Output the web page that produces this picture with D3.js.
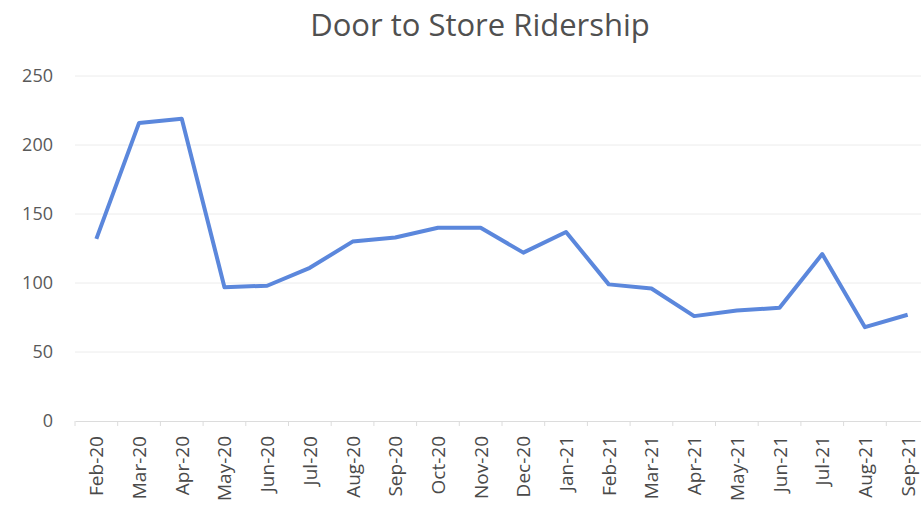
<!DOCTYPE html>
<html lang="en">
  <head>
    <meta charset="UTF-8" />
    <title>Door to Store Ridership</title>
    <script src="https://d3js.org/d3.v7.min.js"></script>
    <style>
      body {
        margin: 0;
        padding: 0;
        background-color: #fff;
      }
      svg text {
        font-family: "Open Sans", Calibri, sans-serif;
        fill: #595959;
      }
    </style>
  </head>
  <body>
    <div id="chart"></div>

    <script>
      const months = ["Feb-20", "Mar-20", "Apr-20", "May-20", "Jun-20", "Jul-20", "Aug-20", "Sep-20", "Oct-20", "Nov-20", "Dec-20", "Jan-21", "Feb-21", "Mar-21", "Apr-21", "May-21", "Jun-21", "Jul-21", "Aug-21", "Sep-21"];
      const riders = [132, 216, 219, 97, 98, 111, 130, 133, 140, 140, 122, 137, 99, 96, 76, 80, 82, 121, 68, 77];
      const yTicks = [0, 50, 100, 150, 200, 250];

      const width = 921;
      const height = 512;
      const margin = { top: 76, right: 0, bottom: 90, left: 75 };

      const svg = d3.select("#chart").append("svg").attr("width", width).attr("height", height);

      const x = d3.scaleBand().domain(months).range([margin.left, margin.left + 20 * 42.7]);
      const y = d3.scaleLinear().domain([0, 250]).range([421, 76]);

      // gridlines
      svg
        .append("g")
        .selectAll("line")
        .data(yTicks.slice(1))
        .enter()
        .append("line")
        .attr("x1", margin.left)
        .attr("x2", width)
        .attr("y1", (d) => y(d))
        .attr("y2", (d) => y(d))
        .attr("stroke", "#ececec")
        .attr("stroke-width", 1);

      // y labels
      svg
        .append("g")
        .selectAll("text")
        .data(yTicks)
        .enter()
        .append("text")
        .attr("x", 53)
        .attr("y", (d) => y(d))
        .attr("dy", "0.35em")
        .attr("text-anchor", "end")
        .style("font-size", "18px")
        .text((d) => d);

      // x axis
      const gx = svg.append("g").attr("transform", `translate(0,${y(0)})`).call(d3.axisBottom(x).tickSize(0).tickFormat(""));
      gx.select(".domain").attr("stroke", "#dcdcdc");
      gx.selectAll(".tick").remove();
      gx.selectAll(".sep")
        .data(months)
        .enter()
        .append("line")
        .attr("x1", (d) => x(d))
        .attr("x2", (d) => x(d))
        .attr("y1", 0)
        .attr("y2", 5)
        .attr("stroke", "#dcdcdc");

      svg
        .append("g")
        .selectAll("text")
        .data(months)
        .enter()
        .append("text")
        .attr("transform", (d) => `translate(${x(d) + x.bandwidth() / 2 + 7},${y(0) + 15}) rotate(-90)`)
        .attr("text-anchor", "end")
        .style("font-size", "19px")
        .style("fill", "#4a4a4a")
        .text((d) => d);

      // line
      const line = d3
        .line()
        .x((d, i) => x(months[i]) + x.bandwidth() / 2)
        .y((d) => y(d));

      svg
        .append("path")
        .datum(riders)
        .attr("d", line)
        .attr("fill", "none")
        .attr("stroke", "#5b87dc")
        .attr("stroke-width", 4)
        .attr("stroke-linejoin", "round");

      // title
      svg
        .append("text")
        .attr("x", 480)
        .attr("y", 36)
        .attr("text-anchor", "middle")
        .style("font-size", "31px")
        .style("fill", "#505050")
        .text("Door to Store Ridership");
    </script>
  </body>
</html>
